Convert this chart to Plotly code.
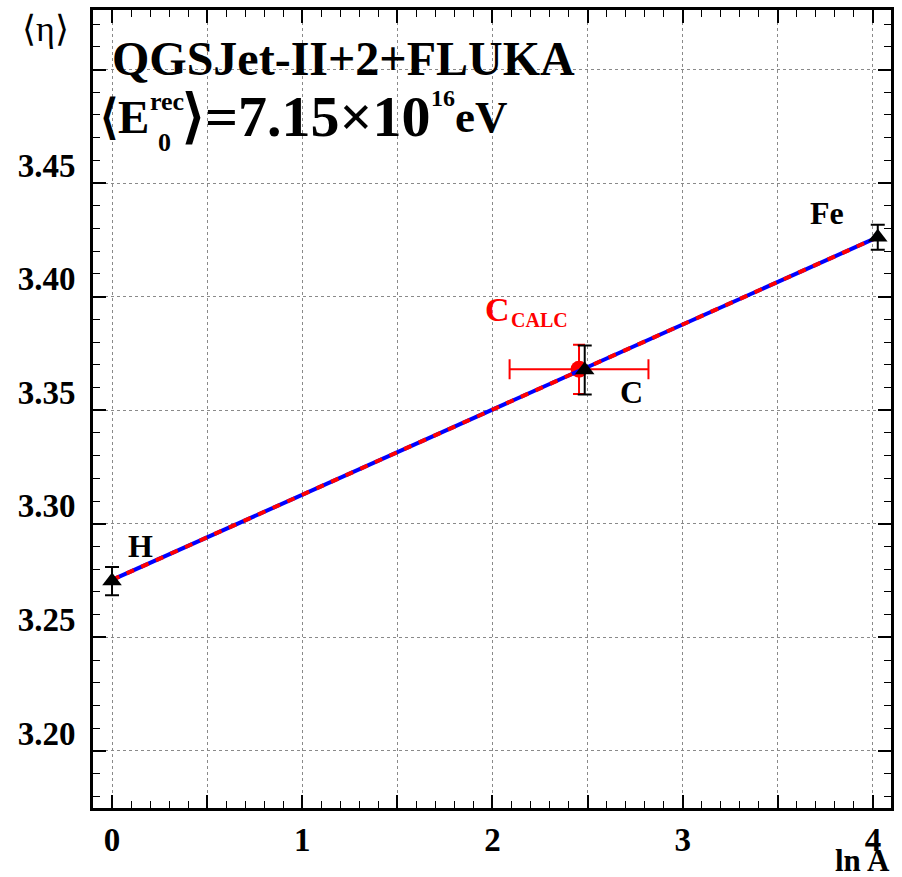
import plotly.graph_objects as go

# ---- data ----
elements = ["H", "C", "Fe"]
lnA = [0.0, 2.4849, 4.0254]
eta = [3.2748, 3.3677, 3.4262]
eta_err = [0.0062, 0.0108, 0.0055]

calc_lnA = [2.455]
calc_lnA_err = [0.365]
calc_eta = [3.3680]
calc_eta_err = [0.0108]

fit_x = [0.0, 4.0254]
fit_y = [3.2753, 3.4262]

x_tickvals = [0, 0.5, 1, 1.5, 2, 2.5, 3, 3.5, 4]
x_ticktext = ["0", " ", "1", " ", "2", " ", "3", " ", "4"]
y_tickvals = [3.20, 3.25, 3.30, 3.35, 3.40, 3.45, 3.50]
y_ticktext = ["3.20", "3.25", "3.30", "3.35", "3.40", "3.45", " "]

FONT = "Liberation Serif"

# plot area in pixels
L, R, T, B = 93, 891, 10, 808
W, H = 902, 877


def px(x):
    return (x - L) / (R - L)


def py(y):
    return (B - y) / (B - T)


fig = go.Figure()

# calculated point (red)
fig.add_trace(go.Scatter(
    x=calc_lnA, y=calc_eta, mode="markers",
    marker=dict(symbol="circle", size=17, color="#ff0000"),
    error_x=dict(type="data", array=calc_lnA_err, color="#ff0000", thickness=2, width=10),
    error_y=dict(type="data", array=calc_eta_err, color="#ff0000", thickness=2, width=6),
    showlegend=False, hoverinfo="skip"))

# fit lines: blue solid + red dashed
fig.add_trace(go.Scatter(x=fit_x, y=fit_y, mode="lines",
                         line=dict(color="#0000ff", width=4), showlegend=False))
fig.add_trace(go.Scatter(x=fit_x, y=fit_y, mode="lines",
                         line=dict(color="#ff0000", width=4, dash="8px,8px"), showlegend=False))

# simulated points (black triangles)
fig.add_trace(go.Scatter(
    x=lnA, y=eta, mode="markers",
    marker=dict(symbol="triangle-up", size=17, color="black"),
    error_y=dict(type="data", array=eta_err, color="black", thickness=2, width=7),
    showlegend=False))

axis_common = dict(
    showline=True, linecolor="black", linewidth=3, mirror="allticks",
    ticks="inside", ticklen=13, tickwidth=1.5, tickcolor="black",
    showgrid=True, gridcolor="#8a8a8a", griddash="dot", gridwidth=1,
    zeroline=False, automargin=False,
    tickfont=dict(family=FONT, size=33, color="black", weight="bold"),
)

fig.update_xaxes(
    range=[-0.1, 4.095], tickmode="array", tickvals=x_tickvals, ticktext=x_ticktext,
    minor=dict(dtick=0.1, ticks="inside", ticklen=7, tickwidth=1, tickcolor="black", showgrid=False),
    ticklabelstandoff=0, **axis_common)
fig.update_yaxes(
    range=[3.1749, 3.5262], tickmode="array", tickvals=y_tickvals, ticktext=y_ticktext,
    minor=dict(dtick=0.01, ticks="inside", ticklen=7, tickwidth=1, tickcolor="black", showgrid=False),
    ticklabelstandoff=8, ticklabelshift=-18, **axis_common)

ann = []


def add_text(text, x, y, size, color="black", bold=True, xanchor="left", yanchor="middle"):
    ann.append(dict(text=text, x=px(x), y=py(y), xref="paper", yref="paper",
                    xanchor=xanchor, yanchor=yanchor, showarrow=False,
                    font=dict(family=FONT, size=size, color=color,
                              weight="bold" if bold else "normal")))


# title lines
add_text("QGSJet-II+2+FLUKA", 110, 58, 48)
add_text("⟨E", 98, 117, 47)
add_text("rec", 148, 101, 26)
add_text("0", 156, 143, 26)
add_text("⟩=7.15×10", 180, 116, 58)
add_text("16", 429, 98, 24)
add_text("eV", 453, 117, 45)

# axis titles
add_text("⟨η⟩", 45, 29, 36, bold=False, xanchor="center")
add_text("ln A", 862, 880, 31, xanchor="center", yanchor="bottom")

# element labels
add_text("H", 140, 546, 32, xanchor="center")
add_text("C", 631, 392, 32, xanchor="center")
add_text("Fe", 827, 213, 32, xanchor="center")
add_text("C", 483, 309, 34, color="#ff0000")
add_text("CALC", 509, 320, 20, color="#ff0000")

fig.update_layout(
    width=W, height=H,
    margin=dict(l=L, r=W - R, t=T, b=H - B),
    plot_bgcolor="white", paper_bgcolor="white",
    annotations=ann,
)

fig.write_html("out.html")
